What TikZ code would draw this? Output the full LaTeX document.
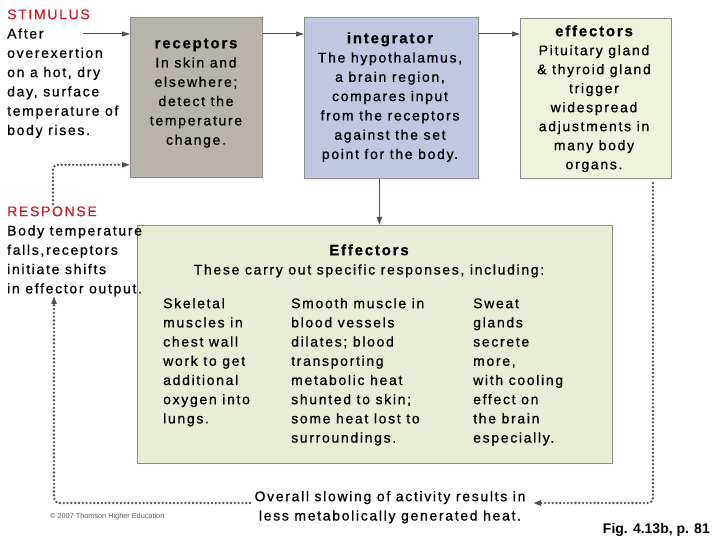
\documentclass[tikz,border=0pt]{standalone}
\usepackage{fontspec}
\setmainfont{Liberation Sans}[LetterSpace=12, RawFeature={embolden=0.7}]
\newfontfamily\figfont{Liberation Sans}
\usetikzlibrary{arrows.meta}
\definecolor{recfill}{RGB}{185,179,174}
\definecolor{intfill}{RGB}{193,198,226}
\definecolor{efffill}{RGB}{238,243,220}
\definecolor{bigfill}{RGB}{232,238,214}
\definecolor{stimred}{RGB}{200,30,40}
\definecolor{linegray}{RGB}{80,80,80}
\definecolor{bordergray}{RGB}{140,140,140}
\tikzset{
  box/.style={draw=bordergray, line width=0.8pt, anchor=north west, inner sep=0pt},
  txt/.style={inner sep=0pt, font=\fontsize{14}{19.3}\selectfont},
  arr/.style={draw=linegray, line width=1pt, -{Triangle[length=8pt,width=5pt]}},
  dotarr/.style={draw=linegray, line width=2.6pt, line cap=round, dash pattern=on 0pt off 3.8pt,
    -{Triangle[length=8pt,width=5pt]}, rounded corners=5pt}
}
\newcommand{\fl}{\rule{0pt}{12pt}}
\newcommand{\ttl}[1]{{\bfseries\fontsize{15}{19.3}\selectfont #1}}
\begin{document}
\begin{tikzpicture}[x=1pt,y=-1pt]
\useasboundingbox (0,0) rectangle (720,540);
% boxes
\node[box, fill=recfill, minimum width=132pt, minimum height=160pt] (rec) at (130,17) {};
\node[box, fill=intfill, minimum width=174pt, minimum height=161pt] (int) at (304,17) {};
\node[box, fill=efffill, minimum width=151pt, minimum height=160pt] (efftop) at (520,18) {};
\node[box, fill=bigfill, minimum width=475pt, minimum height=238pt] (big) at (137,225) {};
% texts
\node[txt, anchor=north west, align=left] (stim) at (7,7)
  {\fl\textcolor{stimred}{STIMULUS}\\After\\overexertion\\on a hot, dry\\day, surface\\temperature of\\body rises.};
\node[txt, anchor=north, align=center] (rect) at (196,36)
  {\fl\ttl{receptors}\\In skin and\\elsewhere;\\detect the\\temperature\\change.};
\node[txt, anchor=north, align=center] (intt) at (390,31)
  {\fl\ttl{integrator}\\The hypothalamus,\\a brain region,\\compares input\\from the receptors\\against the set\\point for the body.};
\node[txt, anchor=north, align=center, font=\fontsize{14}{19}\selectfont] (efft) at (594,24)
  {\fl\ttl{effectors}\\Pituitary gland\\\& thyroid gland\\trigger\\widespread\\adjustments in\\many body\\organs.};
\node[txt, anchor=north, align=center] (bigt) at (369,243)
  {\fl\ttl{Effectors}\\These carry out specific responses, including:};
\node[txt, anchor=north west, align=left, font=\fontsize{14}{19.2}\selectfont] (col1) at (163,296)
  {\fl Skeletal\\muscles in\\chest wall\\work to get\\additional\\oxygen into\\lungs.};
\node[txt, anchor=north west, align=left, font=\fontsize{14}{19.2}\selectfont] (col2) at (291,296)
  {\fl Smooth muscle in\\blood vessels\\dilates; blood\\transporting\\metabolic heat\\shunted to skin;\\some heat lost to\\surroundings.};
\node[txt, anchor=north west, align=left, font=\fontsize{14}{19.2}\selectfont] (col3) at (473,296)
  {\fl Sweat\\glands\\secrete\\more,\\with cooling\\effect on\\the brain\\especially.};
\node[txt, anchor=north west, align=left] (resp) at (7,204)
  {\fl\textcolor{stimred}{RESPONSE}\\Body temperature\\falls,receptors\\initiate shifts\\in effector output.};
\node[txt, anchor=north, align=center] (overall) at (390,489)
  {\fl Overall slowing of activity results in\\less metabolically generated heat.};
\node[inner sep=0pt, anchor=west, text=black!65, font=\figfont\fontsize{7.3}{8}\selectfont] (copy) at (50,517)
  {\textcopyright\ 2007 Thomson Higher Education};
\node[inner sep=0pt, anchor=base east, font=\figfont\bfseries\fontsize{14}{16}\selectfont] (fig) at (710,533)
  {Fig. 4.13b, p. 81};
% coordinates
\coordinate (s1) at (83,34);
\coordinate (lp1) at (53,204);
\coordinate (rstart) at (653,183);
\coordinate (rtip) at (533,503);
\coordinate (lstart) at (250,503);
\coordinate (ltip) at (54,296);
% solid arrows
\draw[arr] (s1) -- (s1 -| rec.west);
\draw[arr] (rec.east |- s1) -- (int.west |- s1);
\draw[arr] ([yshift=-17pt]int.north east) -- ([yshift=-16pt]efftop.north west);
\draw[arr, line width=1.6pt] ([xshift=-12pt]int.south) -- ([xshift=-12pt]int.south |- big.north);
% dotted loop
\draw[dotarr] (lp1) |- ([yshift=13pt]rec.south west);
\draw[dotarr] (rstart) |- (rtip);
\draw[dotarr] (lstart) -| (ltip);
\end{tikzpicture}
\end{document}
